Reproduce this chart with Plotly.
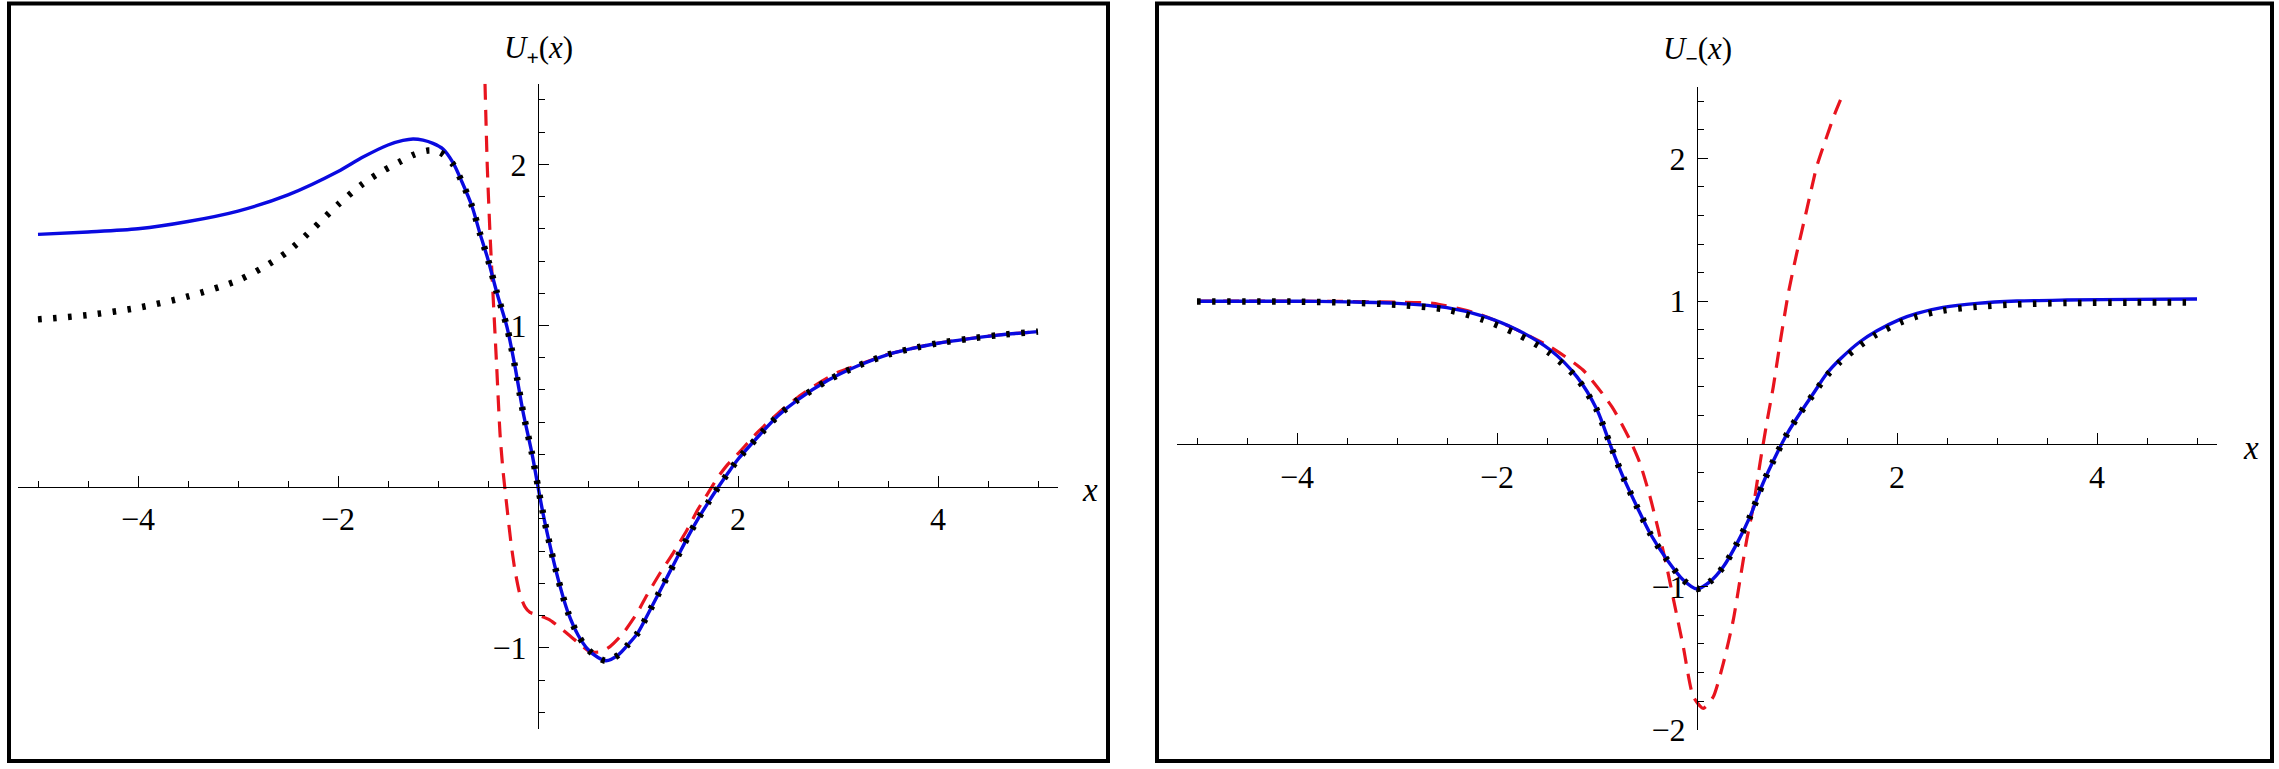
import plotly.graph_objects as go

W, H = 2279, 769

# ---------------- Left panel: U_+(x) ----------------
lp_blue_x = [-5.0, -4.5, -4.0, -3.5, -3.0, -2.5, -2.0, -1.75, -1.5, -1.35, -1.25, -1.15, -1.05, -0.95, -0.85,
             -0.76, -0.66, -0.58, -0.5, -0.41, -0.31, -0.23, -0.15, -0.06, 0.0, 0.05, 0.1, 0.2, 0.3, 0.4,
             0.5, 0.6, 0.68, 0.8, 0.9, 1.0, 1.1, 1.2, 1.3, 1.4, 1.5, 1.6, 1.7, 1.8, 1.9, 2.0, 2.2, 2.4,
             2.6, 2.9, 3.2, 3.5, 3.8, 4.0, 4.3, 4.6, 5.0]
lp_blue_y = [1.565, 1.58, 1.60, 1.645, 1.71, 1.81, 1.955, 2.045, 2.12, 2.148, 2.157, 2.15, 2.13, 2.095, 2.01,
             1.89, 1.74, 1.57, 1.41, 1.20, 0.99, 0.745, 0.465, 0.205, 0.0, -0.165, -0.31, -0.57, -0.78,
             -0.92, -1.01, -1.06, -1.08, -1.045, -0.98, -0.905, -0.79, -0.67, -0.55, -0.43, -0.31, -0.20,
             -0.10, -0.005, 0.085, 0.17, 0.31, 0.44, 0.54, 0.66, 0.75, 0.82, 0.865, 0.89, 0.917, 0.94,
             0.962]

lp_black_x = [-5.0, -4.5, -4.0, -3.5, -3.0, -2.75, -2.5, -2.25, -2.0, -1.75, -1.55, -1.38, -1.25, -1.1,
              -0.98, -0.85, -0.76, -0.66, -0.58, -0.5, -0.41, -0.31, -0.23, -0.15, -0.06, 0.0, 0.05, 0.1,
              0.2, 0.3, 0.4, 0.5, 0.6, 0.68, 0.8, 0.9, 1.0, 1.1, 1.2, 1.3, 1.4, 1.5, 1.6, 1.7, 1.8, 1.9,
              2.0, 2.2, 2.4, 2.6, 2.9, 3.2, 3.5, 3.8, 4.0, 4.3, 4.6, 5.0]
lp_black_y = [1.038, 1.065, 1.11, 1.18, 1.28, 1.36, 1.46, 1.60, 1.75, 1.88, 1.96, 2.016, 2.058, 2.085,
              2.075, 2.00, 1.89, 1.74, 1.57, 1.41, 1.20, 0.99, 0.745, 0.465, 0.205, 0.0, -0.165, -0.31,
              -0.57, -0.78, -0.92, -1.01, -1.06, -1.08, -1.045, -0.98, -0.905, -0.79, -0.67, -0.55, -0.43,
              -0.31, -0.20, -0.10, -0.005, 0.085, 0.17, 0.31, 0.44, 0.54, 0.66, 0.75, 0.82, 0.865, 0.89,
              0.917, 0.94, 0.962]

lp_red_x = [-0.53, -0.507, -0.48, -0.447, -0.413, -0.38, -0.35, -0.31, -0.27, -0.23, -0.18, -0.13, -0.08,
            0.0, 0.12, 0.25, 0.39, 0.52, 0.62, 0.72, 0.85, 0.99, 1.09, 1.22, 1.35, 1.49, 1.6, 1.7, 1.8,
            1.9, 2.0, 2.2, 2.4, 2.6, 2.8, 3.0, 3.2, 3.5, 3.8, 4.0, 4.3, 4.6, 5.0]
lp_red_y = [2.50, 1.985, 1.572, 1.158, 0.744, 0.331, 0.10, -0.13, -0.35, -0.52, -0.67, -0.745, -0.78,
            -0.796, -0.827, -0.889, -0.962, -1.023, -1.025, -0.992, -0.91, -0.785, -0.672, -0.537, -0.413,
            -0.269, -0.14, -0.04, 0.06, 0.14, 0.205, 0.34, 0.455, 0.555, 0.64, 0.71, 0.755, 0.822, 0.866,
            0.891, 0.918, 0.941, 0.962]

# ---------------- Right panel: U_-(x) ----------------
rp_blue_x = [-5.0, -4.0, -3.5, -3.0, -2.5, -2.14, -1.8, -1.47, -1.2, -1.0, -0.87, -0.74, -0.6, -0.47, -0.3,
             -0.14, 0.0, 0.13, 0.263, 0.4, 0.53, 0.66, 0.8, 0.9, 1.03, 1.16, 1.3, 1.43, 1.63, 1.8, 2.03,
             2.2, 2.46, 2.8, 3.2, 3.7, 4.36, 5.0]
rp_blue_y = [1.0, 1.0, 0.995, 0.985, 0.955, 0.895, 0.80, 0.66, 0.47, 0.24, 0.0, -0.229, -0.44, -0.625,
             -0.81, -0.95, -1.015, -0.964, -0.86, -0.696, -0.509, -0.275, -0.065, 0.07, 0.215, 0.35,
             0.495, 0.593, 0.716, 0.793, 0.873, 0.915, 0.957, 0.985, 1.001, 1.008, 1.013, 1.015]

rp_black_x = [-5.0, -4.0, -3.5, -3.0, -2.5, -2.14, -1.8, -1.47, -1.2, -1.0, -0.87, -0.74, -0.6, -0.47,
              -0.3, -0.14, 0.0, 0.13, 0.263, 0.4, 0.53, 0.66, 0.8, 0.9, 1.03, 1.16, 1.3, 1.43, 1.63, 1.8,
              2.03, 2.2, 2.46, 2.8, 3.2, 3.7, 4.36, 5.0]
rp_black_y = [0.998, 0.997, 0.99, 0.975, 0.94, 0.87, 0.77, 0.635, 0.46, 0.235, 0.0, -0.229, -0.44, -0.625,
              -0.81, -0.95, -1.015, -0.964, -0.86, -0.696, -0.509, -0.275, -0.065, 0.07, 0.215, 0.345,
              0.48, 0.575, 0.69, 0.77, 0.85, 0.893, 0.935, 0.961, 0.978, 0.987, 0.99, 0.99]

rp_red_x = [-5.0, -4.0, -3.5, -3.0, -2.64, -2.2, -1.87, -1.47, -1.14, -0.85, -0.67, -0.57, -0.47, -0.387,
            -0.303, -0.22, -0.137, -0.037, 0.063, 0.163, 0.263, 0.363, 0.43, 0.497, 0.563, 0.63, 0.697,
            0.763, 0.83, 0.913, 0.997, 1.097, 1.197, 1.297, 1.38, 1.463]
rp_red_y = [1.0, 1.0, 0.998, 0.993, 0.985, 0.915, 0.822, 0.681, 0.518, 0.26, 0.028, -0.135, -0.369,
            -0.602, -0.859, -1.14, -1.42, -1.77, -1.851, -1.77, -1.536, -1.232, -0.952, -0.672, -0.439,
            -0.135, 0.145, 0.401, 0.705, 1.055, 1.335, 1.639, 1.942, 2.152, 2.316, 2.456]

# ---------------- axis ticks / labels ----------------
x_major = [-4, -2, 2, 4]
x_major_text = ["\u22124", "\u22122", "2", "4"]
x_minor = [-5, -4.5, -3.5, -3, -2.5, -1.5, -1, -0.5, 0.5, 1, 1.5, 2.5, 3, 3.5, 4.5, 5]

l_y_major = [-1, 1, 2]
l_y_major_text = ["\u22121", "1", "2"]
l_y_minor = [-1.4, -1.2, -0.8, -0.6, -0.4, -0.2, 0.2, 0.4, 0.6, 0.8, 1.2, 1.4, 1.6, 1.8, 2.2, 2.4]

r_y_major = [-2, -1, 1, 2]
r_y_major_text = ["\u22122", "\u22121", "1", "2"]
r_y_minor = [-1.8, -1.6, -1.4, -1.2, -0.8, -0.6, -0.4, -0.2, 0.2, 0.4, 0.6, 0.8, 1.2, 1.4, 1.6, 1.8,
             2.2, 2.4]

BLUE = "#0a0ae0"
RED = "#e8141e"
BLACK = "#000000"
FONT = "Liberation Serif, Times New Roman, serif"
TICK_SIZE = 32
LABEL_SIZE = 31


def xdom(a, b):
    return [a / W, b / W]


def ydom(top, bottom):
    return [(H - bottom) / H, (H - top) / H]


L = dict(xr=[-5.2, 5.2], yr=[-1.5, 2.5], xd=xdom(18, 1058), yd=ydom(83.7, 728.5))
R = dict(xr=[-5.2, 5.2], yr=[-2.0, 2.5], xd=xdom(1177, 2217), yd=ydom(87, 729.6))


def zero_pos(dom, rng):
    return dom[0] + (0 - rng[0]) / (rng[1] - rng[0]) * (dom[1] - dom[0])


def tfont(size):
    return dict(family=FONT, size=size, color="black")


def xaxis_cfg(P):
    return dict(domain=P["xd"], range=P["xr"], anchor="free", position=zero_pos(P["yd"], P["yr"]),
                showline=True, linecolor="black", linewidth=1.3, ticks="inside",
                tickmode="array", tickvals=x_major, ticktext=x_major_text, ticklen=11, tickwidth=1.3,
                tickcolor="black",
                minor=dict(tickmode="array", tickvals=x_minor, ticklen=6, tickwidth=1.2,
                           tickcolor="black", ticks="inside", showgrid=False),
                showgrid=False, zeroline=False, fixedrange=True,
                tickfont=tfont(TICK_SIZE), ticklabelstandoff=4)


def yaxis_cfg(P, vals, texts, minor):
    return dict(domain=P["yd"], range=P["yr"], anchor="free", position=zero_pos(P["xd"], P["xr"]),
                side="left", showline=True, linecolor="black", linewidth=1.3, ticks="inside",
                tickmode="array", tickvals=vals, ticktext=texts, ticklen=10, tickwidth=1.3,
                tickcolor="black",
                minor=dict(tickmode="array", tickvals=minor, ticklen=6, tickwidth=1.2,
                           tickcolor="black", ticks="inside", showgrid=False),
                showgrid=False, zeroline=False, fixedrange=True,
                tickfont=tfont(TICK_SIZE), ticklabelstandoff=5)


fig = go.Figure()

fig.add_trace(go.Scatter(x=lp_red_x, y=lp_red_y, mode="lines", xaxis="x", yaxis="y",
                         line=dict(color=RED, width=3.2, dash="16px,10px", shape="spline", smoothing=0.6)))
fig.add_trace(go.Scatter(x=lp_blue_x, y=lp_blue_y, mode="lines", xaxis="x", yaxis="y",
                         line=dict(color=BLUE, width=3.4, shape="spline", smoothing=0.8)))
fig.add_trace(go.Scatter(x=lp_black_x, y=lp_black_y, mode="lines", xaxis="x", yaxis="y",
                         line=dict(color=BLACK, width=6.5, dash="3.5px,11.5px", shape="spline", smoothing=0.8)))

fig.add_trace(go.Scatter(x=rp_red_x, y=rp_red_y, mode="lines", xaxis="x2", yaxis="y2",
                         line=dict(color=RED, width=3.2, dash="16px,10px", shape="spline", smoothing=0.6)))
fig.add_trace(go.Scatter(x=rp_blue_x, y=rp_blue_y, mode="lines", xaxis="x2", yaxis="y2",
                         line=dict(color=BLUE, width=3.4, shape="spline", smoothing=0.8)))
fig.add_trace(go.Scatter(x=rp_black_x, y=rp_black_y, mode="lines", xaxis="x2", yaxis="y2",
                         line=dict(color=BLACK, width=6.5, dash="3.5px,11.5px", shape="spline", smoothing=0.8)))

annotations = [
    dict(text="<i>U</i><sub><b>+</b></sub>(<i>x</i>)", xref="x", yref="paper", x=0, y=(H - 50) / H,
         xanchor="center", yanchor="middle", showarrow=False, font=tfont(LABEL_SIZE)),
    dict(text="<i>U</i><sub><b>\u2212</b></sub>(<i>x</i>)", xref="x2", yref="paper", x=0, y=(H - 51) / H,
         xanchor="center", yanchor="middle", showarrow=False, font=tfont(LABEL_SIZE)),
    dict(text="<i>x</i>", xref="x", yref="y", x=L["xr"][1], y=0, xanchor="left", yanchor="middle",
         xshift=22, yshift=-3, showarrow=False, font=tfont(LABEL_SIZE + 2)),
    dict(text="<i>x</i>", xref="x2", yref="y2", x=R["xr"][1], y=0, xanchor="left", yanchor="middle",
         xshift=24, yshift=-4, showarrow=False, font=tfont(LABEL_SIZE + 2)),
]

shapes = [
    dict(type="rect", xref="paper", yref="paper", x0=9 / W, x1=1108 / W, y0=(H - 761) / H, y1=(H - 3.5) / H,
         line=dict(color="black", width=4), fillcolor="rgba(0,0,0,0)"),
    dict(type="rect", xref="paper", yref="paper", x0=1157 / W, x1=2272 / W, y0=(H - 761) / H,
         y1=(H - 3.5) / H, line=dict(color="black", width=4), fillcolor="rgba(0,0,0,0)"),
]

fig.update_layout(
    template="none",
    width=W, height=H, autosize=False,
    margin=dict(l=0, r=0, t=0, b=0, pad=0),
    paper_bgcolor="white", plot_bgcolor="white",
    font=tfont(TICK_SIZE),
    showlegend=False,
    xaxis=xaxis_cfg(L),
    yaxis=yaxis_cfg(L, l_y_major, l_y_major_text, l_y_minor),
    xaxis2=xaxis_cfg(R),
    yaxis2=yaxis_cfg(R, r_y_major, r_y_major_text, r_y_minor),
    annotations=annotations,
    shapes=shapes,
)

fig.write_html("out.html", config={"displayModeBar": False},
               post_script="document.body.style.margin='0';document.body.style.overflow='hidden';")
